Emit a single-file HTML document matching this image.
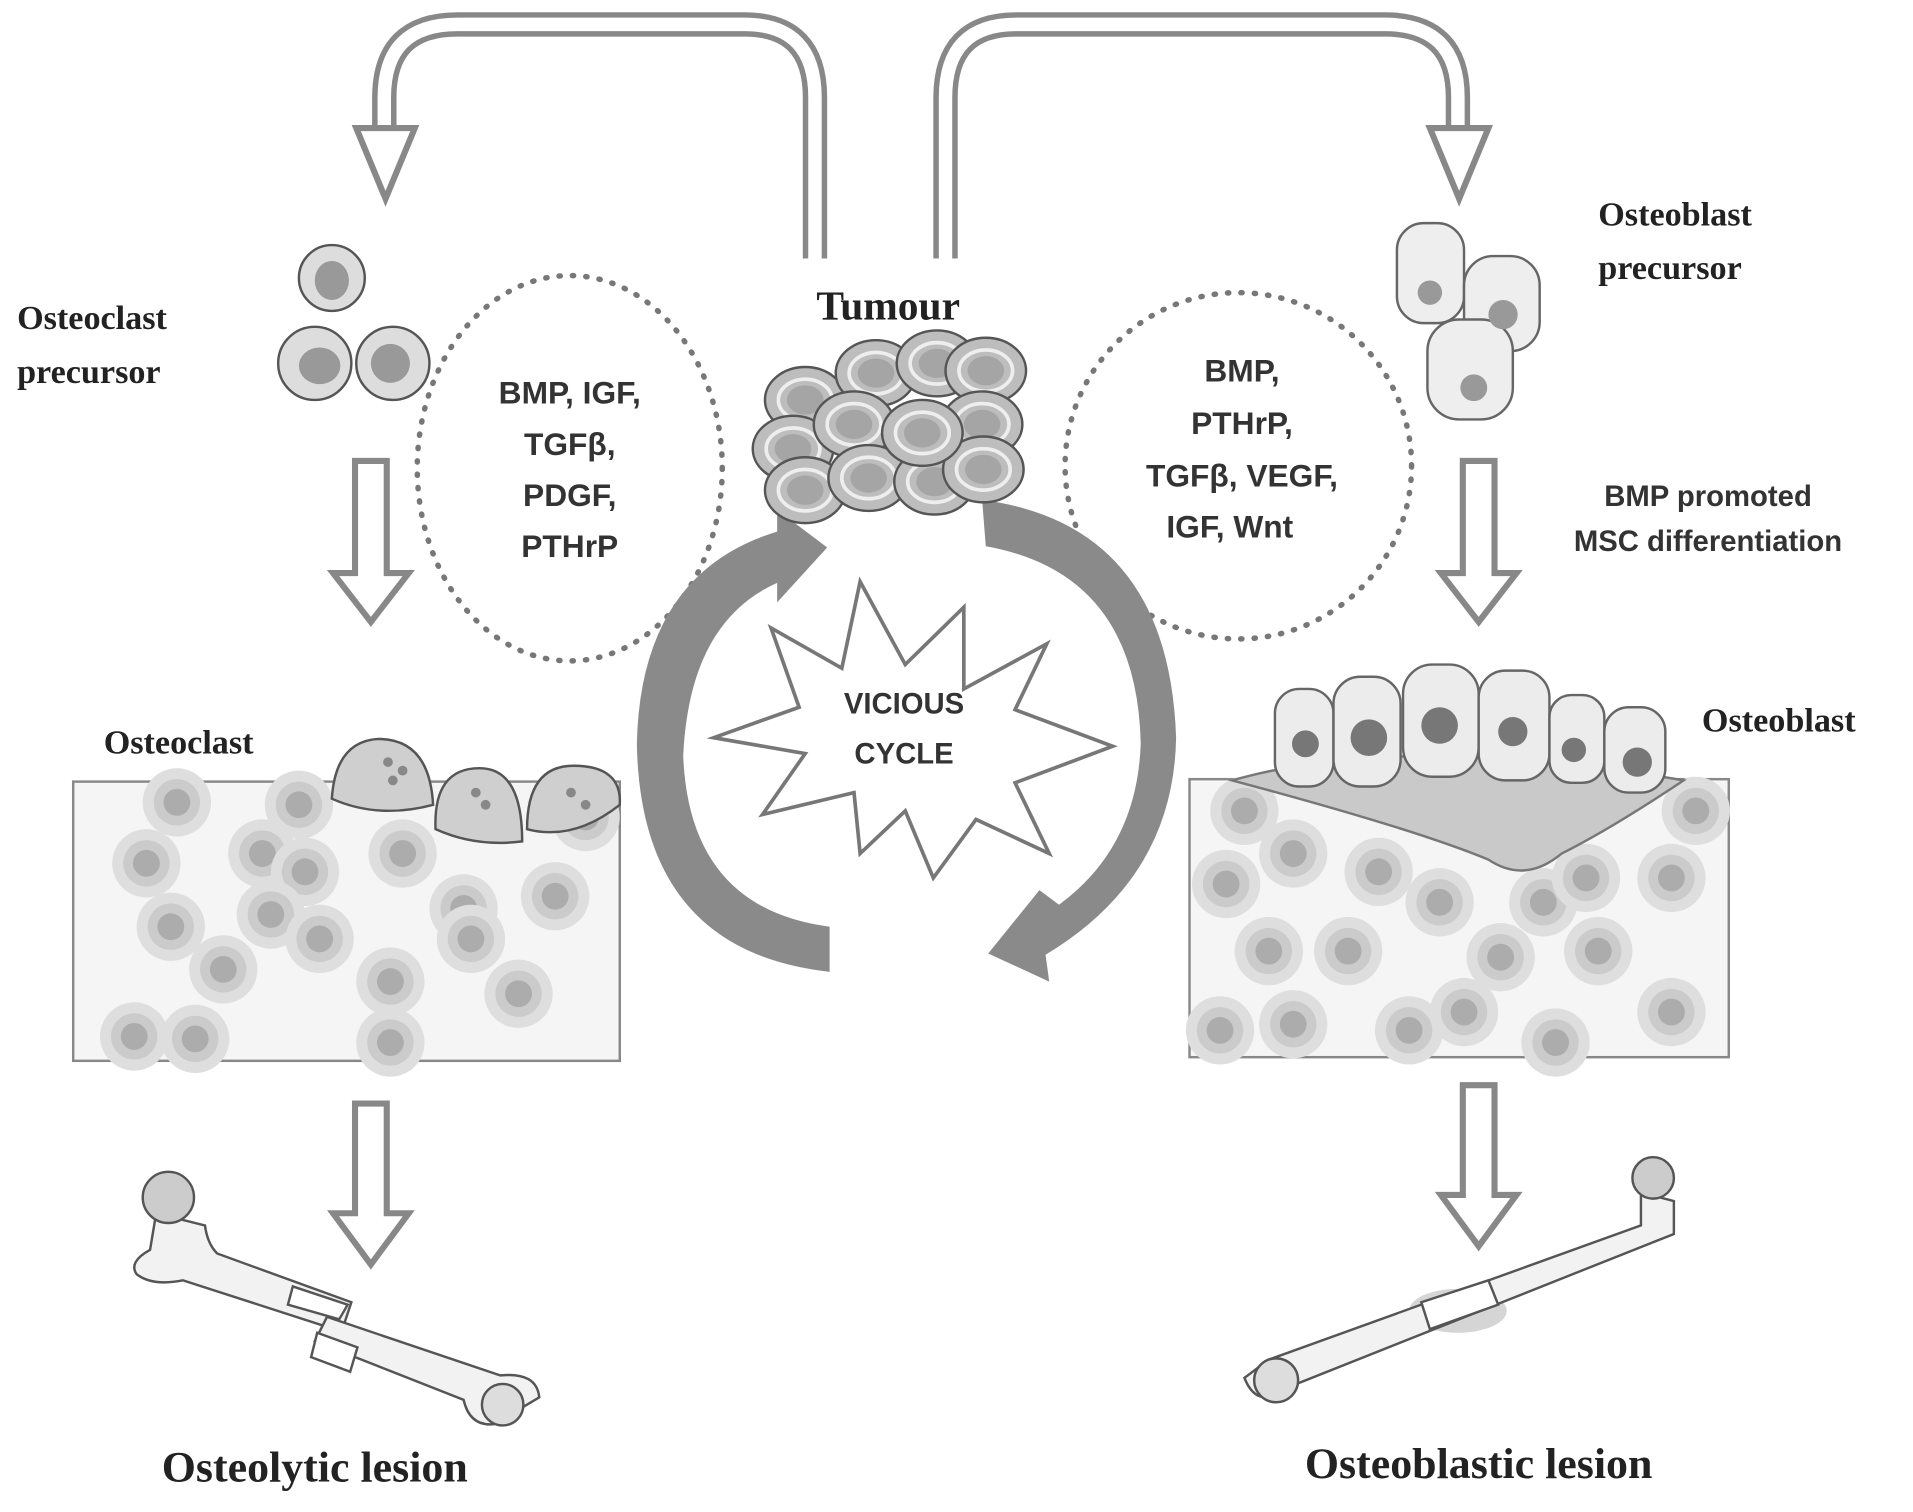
<!DOCTYPE html>
<html><head><meta charset="utf-8"><style>
html,body{margin:0;padding:0;background:#fff;}
svg{display:block;}
.sf{font-family:"Liberation Serif",serif;font-weight:bold;fill:#222;}
.ss{font-family:"Liberation Sans",sans-serif;font-weight:bold;fill:#333;}
</style></head><body>
<svg width="1913" height="1512" viewBox="0 0 1568 1240" preserveAspectRatio="none" xmlns="http://www.w3.org/2000/svg">
<defs>
<g id="blob"><circle r="28" fill="#dedede"/><circle r="19" fill="#cbcbcb"/><circle r="11" fill="#acacac"/></g>
<g id="tc"><ellipse rx="33" ry="27" fill="#bdbdbd" stroke="#555" stroke-width="2"/><ellipse rx="22" ry="17" fill="none" stroke="#eee" stroke-width="3"/><ellipse rx="15" ry="12" fill="#a5a5a5"/></g>
</defs>
<g fill="none">
<path d="M668,212 V80 Q668,20 610,20 H375 Q315,20 315,80 V108" stroke="#888" stroke-width="20"/>
<path d="M668,216 V80 Q668,20 610,20 H375 Q315,20 315,80 V112" stroke="#fff" stroke-width="11"/>
<path d="M775,212 V80 Q775,20 833,20 H1135 Q1195,20 1195,80 V108" stroke="#888" stroke-width="20"/>
<path d="M775,216 V80 Q775,20 833,20 H1135 Q1195,20 1195,80 V112" stroke="#fff" stroke-width="11"/>
</g>
<polygon points="292,105 340,105 316,163" fill="#fff" stroke="#888" stroke-width="5"/>
<polygon points="1172,105 1220,105 1196,163" fill="#fff" stroke="#888" stroke-width="5"/>
<text x="728" y="262" class="sf" font-size="34" text-anchor="middle">Tumour</text>
<text x="14" y="270" class="sf" font-size="28">Osteoclast</text>
<text x="14" y="314" class="sf" font-size="28">precursor</text>
<text x="1310" y="185" class="sf" font-size="28">Osteoblast</text>
<text x="1310" y="229" class="sf" font-size="28">precursor</text>
<text x="85" y="618" class="sf" font-size="28">Osteoclast</text>
<text x="1395" y="600" class="sf" font-size="28">Osteoblast</text>
<text x="258" y="1215" class="sf" font-size="36" text-anchor="middle">Osteolytic lesion</text>
<text x="1212" y="1212" class="sf" font-size="36" text-anchor="middle">Osteoblastic lesion</text>
<ellipse cx="467" cy="384" rx="125" ry="158" fill="none" stroke="#777" stroke-width="4.5" stroke-dasharray="1 10" stroke-linecap="round"/>
<ellipse cx="1015" cy="382" rx="142" ry="142" fill="none" stroke="#777" stroke-width="4.5" stroke-dasharray="1 10" stroke-linecap="round"/>
<g class="ss" font-size="26" text-anchor="middle">
<text x="467" y="331">BMP, IGF,</text><text x="467" y="373">TGFβ,</text><text x="467" y="415">PDGF,</text><text x="467" y="457">PTHrP</text>
<text x="1018" y="313">BMP,</text><text x="1018" y="356">PTHrP,</text><text x="1018" y="399">TGFβ, VEGF,</text><text x="1008" y="441">IGF, Wnt</text>
</g>
<text x="1400" y="415" class="ss" font-size="24" text-anchor="middle">BMP promoted</text>
<text x="1400" y="452" class="ss" font-size="24" text-anchor="middle">MSC differentiation</text>
<g fill="#fff" stroke="#888" stroke-width="5">
<polygon points="291,378 317,378 317,470 335,470 304,510 273,470 291,470"/>
<polygon points="291,905 317,905 317,995 335,995 304,1037 273,995 291,995"/>
<polygon points="1199,378 1225,378 1225,470 1243,470 1212,510 1181,470 1199,470"/>
<polygon points="1199,890 1225,890 1225,980 1243,980 1212,1022 1181,980 1199,980"/>
</g>
<!-- vicious cycle arrows -->
<path d="M680,797 Q525,780 522,610 Q525,470 637,436 L637,418 L678,449 L637,494 L637,478 Q565,510 560,620 Q565,745 680,760 Z" fill="#8a8a8a"/>
<path d="M805,410 L808,448 Q932,470 935,610 Q932,695 868,742 L852,730 L810,782 L860,805 L857,783 Q962,720 964,605 Q958,430 805,410 Z" fill="#8a8a8a"/>
<polygon points="632,515 690,548 705,477 742,545 790,498 790,565 858,528 832,582 912,612 832,642 860,700 800,672 765,720 742,665 705,700 700,650 625,668 660,618 585,605 655,580" fill="#fff" stroke="#777" stroke-width="3"/>
<text x="741" y="585" class="ss" font-size="24" text-anchor="middle">VICIOUS</text>
<text x="741" y="626" class="ss" font-size="24" text-anchor="middle">CYCLE</text>
<use href="#tc" x="660" y="328"/><use href="#tc" x="718" y="306"/><use href="#tc" x="768" y="298"/><use href="#tc" x="808" y="304"/>
<use href="#tc" x="650" y="368"/><use href="#tc" x="700" y="348"/><use href="#tc" x="805" y="348"/><use href="#tc" x="660" y="402"/>
<use href="#tc" x="712" y="392"/><use href="#tc" x="766" y="395"/><use href="#tc" x="806" y="385"/><use href="#tc" x="756" y="355"/>
<g stroke="#555" stroke-width="2">
<circle cx="272" cy="228" r="27" fill="#ddd"/><circle cx="258" cy="298" r="30" fill="#ddd"/><circle cx="322" cy="298" r="30" fill="#ddd"/>
</g>
<g fill="#999"><ellipse cx="272" cy="230" rx="14" ry="16"/><ellipse cx="262" cy="300" rx="17" ry="15"/><ellipse cx="320" cy="298" rx="16" ry="16"/></g>
<g stroke="#666" stroke-width="2" fill="#eee">
<rect x="1145" y="183" width="55" height="82" rx="22"/><rect x="1200" y="210" width="62" height="78" rx="24"/><rect x="1170" y="262" width="70" height="82" rx="26"/>
</g>
<g fill="#999"><circle cx="1172" cy="240" r="10"/><circle cx="1232" cy="258" r="12"/><circle cx="1208" cy="318" r="11"/></g>
<rect x="60" y="641" width="448" height="229" fill="#f5f5f5" stroke="#888" stroke-width="2"/>
<g>
<use href="#blob" x="120" y="708"/><use href="#blob" x="215" y="700"/><use href="#blob" x="250" y="715"/><use href="#blob" x="330" y="700"/>
<use href="#blob" x="380" y="745"/><use href="#blob" x="455" y="735"/><use href="#blob" x="140" y="760"/>
<use href="#blob" x="222" y="750"/><use href="#blob" x="262" y="770"/><use href="#blob" x="320" y="805"/><use href="#blob" x="386" y="770"/>
<use href="#blob" x="425" y="815"/><use href="#blob" x="110" y="850"/><use href="#blob" x="160" y="852"/>
<use href="#blob" x="320" y="855"/><use href="#blob" x="183" y="795"/><use href="#blob" x="480" y="670"/>
<use href="#blob" x="145" y="658"/><use href="#blob" x="245" y="660"/>
</g>
<g stroke="#555" stroke-width="2" fill="#cfcfcf">
<path d="M272,655 Q275,608 310,606 Q352,606 355,660 Q310,672 272,655 Z"/>
<path d="M357,680 Q355,630 393,630 Q428,630 428,690 Q390,695 357,680 Z"/>
<path d="M432,680 Q432,628 470,628 Q510,628 508,660 Q470,690 432,680 Z"/>
</g>
<g fill="#888"><circle cx="318" cy="625" r="4"/><circle cx="330" cy="632" r="4"/><circle cx="322" cy="640" r="4"/><circle cx="390" cy="650" r="4"/><circle cx="398" cy="660" r="4"/><circle cx="468" cy="650" r="4"/><circle cx="480" cy="660" r="4"/></g>
<rect x="975" y="639" width="442" height="228" fill="#f5f5f5" stroke="#888" stroke-width="2"/>
<g>
<use href="#blob" x="1020" y="665"/><use href="#blob" x="1060" y="700"/><use href="#blob" x="1005" y="725"/><use href="#blob" x="1130" y="715"/>
<use href="#blob" x="1180" y="740"/><use href="#blob" x="1265" y="740"/><use href="#blob" x="1300" y="720"/><use href="#blob" x="1370" y="720"/>
<use href="#blob" x="1390" y="665"/><use href="#blob" x="1040" y="780"/><use href="#blob" x="1105" y="780"/><use href="#blob" x="1230" y="785"/>
<use href="#blob" x="1310" y="780"/><use href="#blob" x="1000" y="845"/><use href="#blob" x="1060" y="840"/><use href="#blob" x="1200" y="830"/>
<use href="#blob" x="1275" y="855"/><use href="#blob" x="1370" y="830"/><use href="#blob" x="1155" y="845"/>
</g>
<path d="M1010,640 Q1150,600 1380,640 Q1320,680 1280,700 Q1250,725 1220,705 Q1160,680 1010,640 Z" fill="#c9c9c9" stroke="#777" stroke-width="2"/>
<g stroke="#666" stroke-width="2" fill="#ececec">
<rect x="1045" y="565" width="48" height="80" rx="20"/><rect x="1093" y="555" width="55" height="90" rx="22"/><rect x="1150" y="545" width="62" height="92" rx="24"/>
<rect x="1212" y="550" width="58" height="90" rx="22"/><rect x="1270" y="570" width="45" height="72" rx="18"/><rect x="1315" y="580" width="50" height="70" rx="20"/>
</g>
<g fill="#777"><circle cx="1070" cy="610" r="11"/><circle cx="1122" cy="605" r="15"/><circle cx="1180" cy="595" r="15"/><circle cx="1240" cy="600" r="12"/><circle cx="1290" cy="615" r="10"/><circle cx="1342" cy="625" r="12"/></g>
<g stroke="#555" stroke-width="2" fill="#f2f2f2">
<path d="M128,995 L123,1025 Q105,1035 112,1045 Q125,1055 150,1050 L280,1092 L288,1068 L178,1028 Q170,1020 168,1005 Z"/>
<circle cx="138" cy="982" r="21" fill="#ccc"/>
<path d="M258,1100 L380,1148 Q385,1170 405,1168 L442,1146 Q440,1125 410,1128 L268,1080 Z"/>
<circle cx="412" cy="1152" r="17" fill="#ddd"/>
<path d="M240,1055 L285,1070 L278,1082 L236,1070 Z" fill="#fff"/>
<path d="M260,1093 L293,1105 L287,1125 L255,1113 Z" fill="#fff"/>
</g>
<g stroke="#555" stroke-width="2" fill="#f2f2f2">
<ellipse cx="1195" cy="1075" rx="40" ry="18" fill="#d5d5d5" stroke="none"/>
<path d="M1040,1115 L1345,1005 L1345,978 L1372,985 L1372,1012 L1050,1140 Q1030,1155 1020,1130 Z"/>
<circle cx="1355" cy="966" r="17" fill="#ccc"/>
<circle cx="1046" cy="1132" r="18" fill="#ddd"/>
<path d="M1165,1068 L1220,1050 L1228,1070 L1172,1090 Z" fill="#fff"/>
</g>
</svg>
</body></html>
